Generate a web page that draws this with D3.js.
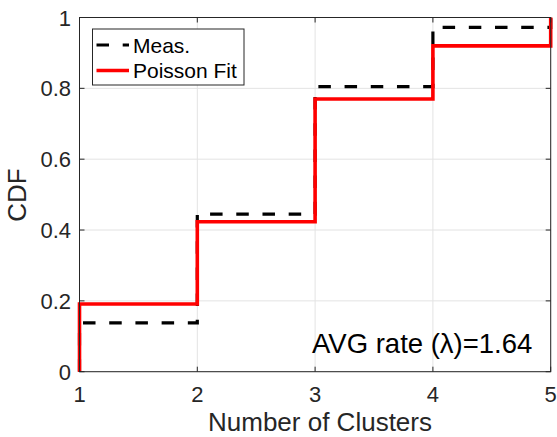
<!DOCTYPE html>
<html>
<head>
<meta charset="utf-8">
<script src="https://cdn.jsdelivr.net/npm/d3@7"></script>
<style>
  body { margin: 0; background: #fff; }
  text { font-family: "Liberation Sans", Arial, sans-serif; fill: #262626; }
</style>
</head>
<body>
<svg id="chart" width="557" height="437"></svg>
<script>
// stair data, first point repeated so the step starts from 0
let clusters = [1, 1, 2, 3, 4, 5]
let measCdf = [0, 0.138, 0.445, 0.805, 0.972, 1]
let poissonCdf = [0, 0.191, 0.4235, 0.770, 0.920, 1]
let xTicks = [1, 2, 3, 4, 5]
let yTicks = [0, 0.2, 0.4, 0.6, 0.8, 1]
let legendNames = ["Meas.", "Poisson Fit"]

let svg = d3.select("#chart")
let pLeft = 79.5, pRight = 550.7, pTop = 17.5, pBottom = 371.7

let x = d3.scaleLinear().domain([1, 5]).range([pLeft, pRight])
let y = d3.scaleLinear().domain([0, 1]).range([pBottom, pTop])

// grid
svg.append("g").selectAll("line").data(xTicks).enter().append("line")
    .attr("x1", d => x(d)).attr("x2", d => x(d))
    .attr("y1", pTop).attr("y2", pBottom)
    .attr("stroke", "#e3e3e3").attr("stroke-width", 1)
svg.append("g").selectAll("line").data(yTicks).enter().append("line")
    .attr("y1", d => y(d)).attr("y2", d => y(d))
    .attr("x1", pLeft).attr("x2", pRight)
    .attr("stroke", "#e3e3e3").attr("stroke-width", 1)

// stairs
let stair = (vals) => d3.line()
    .x((d, i) => x(clusters[i]))
    .y(d => y(d))
    .curve(d3.curveStepAfter)(vals)

svg.append("path").attr("d", stair(measCdf))
    .attr("fill", "none").attr("stroke", "#000")
    .attr("stroke-width", 3.2).attr("stroke-dasharray", "12.5,13.7")
svg.append("path").attr("d", stair(poissonCdf))
    .attr("fill", "none").attr("stroke", "#ff0000")
    .attr("stroke-width", 3.6)

// axes, ticks inward on all four sides
let tickLen = 5
let ax = svg.append("g").attr("stroke", "#262626").attr("stroke-width", 1)
ax.append("rect").attr("x", pLeft).attr("y", pTop)
    .attr("width", pRight - pLeft).attr("height", pBottom - pTop).attr("fill", "none")
xTicks.forEach(t => {
    ax.append("line").attr("x1", x(t)).attr("x2", x(t)).attr("y1", pBottom).attr("y2", pBottom - tickLen)
    ax.append("line").attr("x1", x(t)).attr("x2", x(t)).attr("y1", pTop).attr("y2", pTop + tickLen)
})
yTicks.forEach(t => {
    ax.append("line").attr("y1", y(t)).attr("y2", y(t)).attr("x1", pLeft).attr("x2", pLeft + tickLen)
    ax.append("line").attr("y1", y(t)).attr("y2", y(t)).attr("x1", pRight).attr("x2", pRight - tickLen)
})

// tick labels
svg.append("g").selectAll("text").data(xTicks).enter().append("text")
    .attr("x", d => x(d)).attr("y", 402)
    .attr("text-anchor", "middle").attr("font-size", 22)
    .text(d => d)
svg.append("g").selectAll("text").data(yTicks).enter().append("text")
    .attr("x", 71).attr("y", d => y(d) + 8)
    .attr("text-anchor", "end").attr("font-size", 22)
    .text(d => d)

// axis labels
svg.append("text").attr("x", 320).attr("y", 431)
    .attr("text-anchor", "middle").attr("font-size", 26)
    .text("Number of Clusters")
svg.append("text").attr("transform", "translate(26,195) rotate(-90)")
    .attr("text-anchor", "middle").attr("font-size", 26)
    .text("CDF")

// annotation
svg.append("text").attr("x", 312).attr("y", 353)
    .attr("font-size", 27.5).style("fill", "#000")
    .text("AVG rate (λ)=1.64")

// legend
let lg = svg.append("g")
lg.append("rect").attr("x", 92.5).attr("y", 29).attr("width", 151.5).attr("height", 56)
    .attr("fill", "#fff").attr("stroke", "#262626").attr("stroke-width", 1)
let rows = [45, 70.5]
lg.append("line").attr("x1", 96.5).attr("x2", 129).attr("y1", rows[0]).attr("y2", rows[0])
    .attr("stroke", "#000").attr("stroke-width", 3.2).attr("stroke-dasharray", "12.5,13.7")
lg.append("line").attr("x1", 96.5).attr("x2", 129).attr("y1", rows[1]).attr("y2", rows[1])
    .attr("stroke", "#ff0000").attr("stroke-width", 3.6)
lg.selectAll("text.lbl").data(legendNames).enter().append("text")
    .attr("x", 133).attr("y", (d, i) => rows[i] + 7.5)
    .attr("font-size", 21).style("fill", "#000")
    .text(d => d)
</script>
</body>
</html>
